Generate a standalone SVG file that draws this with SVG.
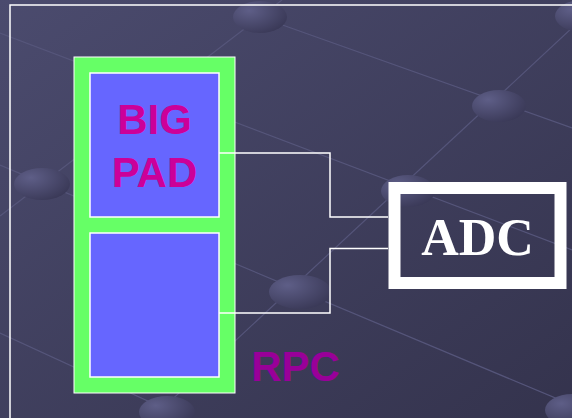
<svg xmlns="http://www.w3.org/2000/svg" width="572" height="418" viewBox="0 0 572 418">
<defs>
<linearGradient id="bg" x1="0" y1="0" x2="1" y2="1">
<stop offset="0" stop-color="#4b4b6e"/>
<stop offset="1" stop-color="#34334d"/>
</linearGradient>
<radialGradient id="ball" cx="0.3" cy="0.3" r="0.8">
<stop offset="0" stop-color="#5e5e87"/>
<stop offset="1" stop-color="#393856"/>
</radialGradient>
<style>
.net{stroke:#55557a;stroke-width:1.2;fill:none}
.ball{fill:url(#ball)}
.wire{stroke:#ffffff;stroke-width:1.5;fill:none}
.pad{fill:#6666ff;stroke:#ffffff;stroke-width:1.5}
.lbl{font-family:"Liberation Sans",Arial,sans-serif;font-weight:bold;font-size:42px;text-anchor:middle}
</style>
</defs>
<rect x="0" y="0" width="572" height="418" fill="url(#bg)"/>
<g id="background">
<line class="net" x1="0" y1="216" x2="282" y2="0"/>
<line class="net" x1="0" y1="33" x2="572" y2="250"/>
<line class="net" x1="260" y1="17" x2="572" y2="128"/>
<line class="net" x1="572" y1="28" x2="150" y2="420"/>
<line class="net" x1="0" y1="165" x2="572" y2="405"/>
<line class="net" x1="0" y1="333" x2="200" y2="425"/>
<ellipse class="ball" cx="260" cy="17" rx="27" ry="16"/>
<ellipse class="ball" cx="499" cy="106" rx="27" ry="16"/>
<ellipse class="ball" cx="42" cy="184" rx="28" ry="16"/>
<ellipse class="ball" cx="408" cy="191" rx="27" ry="16"/>
<ellipse class="ball" cx="300" cy="292" rx="31" ry="17"/>
<ellipse class="ball" cx="167" cy="412" rx="28" ry="16"/>
<ellipse class="ball" cx="572" cy="410" rx="27" ry="16"/>
<ellipse class="ball" cx="582" cy="16" rx="27" ry="16"/>
</g>
<rect x="10" y="5" width="580" height="430" fill="none" stroke="#ffffff" stroke-width="1.5"/>
<g id="rpc">
<rect x="74" y="57" width="161" height="336" fill="#66ff66" stroke="#ffffff" stroke-width="1"/>
<text class="lbl" x="295.5" y="381" fill="#990099">RPC</text>
</g>
<g id="bigpad">
<rect class="pad" x="90" y="73" width="129" height="144"/>
<text class="lbl" x="154.5" y="134" fill="#cc0099">BIG</text>
<text class="lbl" x="154.5" y="187" fill="#cc0099">PAD</text>
</g>
<g id="pad2">
<rect class="pad" x="90" y="233" width="129" height="144"/>
</g>
<g id="connectors">
<polyline class="wire" points="219,153 330,153 330,217 388,217"/>
<polyline class="wire" points="219,313 330,313 330,248.5 388,248.5"/>
</g>
<g id="adc">
<rect x="394.5" y="188" width="166" height="95" fill="none" stroke="#ffffff" stroke-width="12"/>
<text x="477.5" y="255" fill="#ffffff" font-family="'Liberation Serif','Times New Roman',serif" font-weight="bold" font-size="52" text-anchor="middle">ADC</text>
</g>
</svg>
